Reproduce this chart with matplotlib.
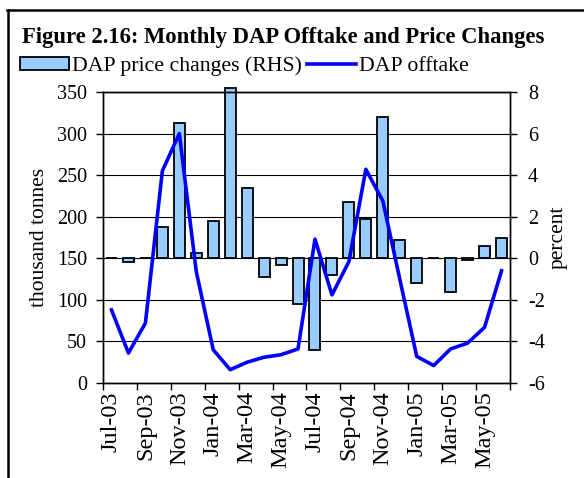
"""
Monthly DAP offtake (line, LHS) and DAP price changes (bars, RHS).
Recreated as out.png, roughly 584x478 px.
"""

import matplotlib
matplotlib.use("Agg")
import matplotlib.pyplot as plt
from matplotlib.lines import Line2D
from matplotlib.patches import Patch


# ─────────────────────────────────────────────
# DATA
# ─────────────────────────────────────────────

months = [
    "Jul-03", "Aug-03", "Sep-03", "Oct-03", "Nov-03", "Dec-03",
    "Jan-04", "Feb-04", "Mar-04", "Apr-04", "May-04", "Jun-04",
    "Jul-04", "Aug-04", "Sep-04", "Oct-04", "Nov-04", "Dec-04",
    "Jan-05", "Feb-05", "Mar-05", "Apr-05", "May-05", "Jun-05",
]

# thousand tonnes
offtake = [88, 36, 72, 255, 300, 134, 40, 16, 25, 31, 34, 41,
           173, 106, 146, 257, 219, 125, 32, 21, 41, 48, 67, 135]

# percent
price_change = [0.0, -0.2, 0.0, 1.5, 6.5, 0.25, 1.8, 8.2, 3.4, -0.9, -0.3, -2.2,
                -4.4, -0.8, 2.7, 1.9, 6.8, 0.9, -1.2, 0.0, -1.6, -0.1, 0.6, 1.0]

left_ticks = [0, 50, 100, 150, 200, 250, 300, 350]
right_ticks = [-6, -4, -2, 0, 2, 4, 6, 8]

title = "Figure 2.16: Monthly DAP Offtake and Price Changes"


# ─────────────────────────────────────────────
# FIGURE
# ─────────────────────────────────────────────

plt.rcParams["font.family"] = ["Liberation Serif", "DejaVu Serif"]
plt.rcParams["font.size"] = 14.5
plt.rcParams["axes.unicode_minus"] = False  # plain hyphen like the source

W, H = 584, 478
fig = plt.figure(figsize=(W / 100, H / 100), dpi=100)

# plot area in pixels: x 103..510, y 92..383
ax = fig.add_axes([103 / W, (H - 383) / H, 407 / W, 291 / H])
ax2 = ax.twinx()

x = list(range(len(months)))

# bars on the right-hand axis, grid behind them
ax2.bar(x, price_change, width=0.65, color="#99CCFF", edgecolor="black",
        linewidth=1.3, zorder=2, clip_on=False)
ax2.set_ylim(-6, 8)
ax2.set_yticks(right_ticks)
ax2.set_ylabel("percent", fontsize=15.5, labelpad=3)
ax2.grid(axis="y", color="black", linewidth=0.8, zorder=0)
ax2.set_axisbelow(True)

# line on the left-hand axis, drawn on top
ax.set_zorder(ax2.get_zorder() + 1)
ax.patch.set_visible(False)
ax.plot(x, offtake, color="#0000FF", linewidth=2.6, zorder=3)
ax.set_ylim(0, 350)
ax.set_yticks(left_ticks)
ax.set_ylabel("thousand tonnes", fontsize=15.5, labelpad=5.5)

# category axis: tick marks every two months, labels on every other month
ax.set_xlim(-0.5, len(months) - 0.5)
ax.set_xticks([i - 0.5 for i in range(0, len(months) + 1, 2)])
ax.set_xticklabels([])
ax.set_xticks(x[::2], minor=True)
ax.set_xticklabels(months[::2], minor=True, rotation=90, fontsize=17.5)
ax.tick_params(axis="x", which="minor", length=0, pad=6)
ax.tick_params(axis="x", which="major", length=5, width=1)
ax.tick_params(axis="y", length=5, width=1, pad=6.5)
ax2.tick_params(axis="y", length=5, width=1, pad=8)

for a in (ax, ax2):
    for sp in a.spines.values():
        sp.set_linewidth(1.0)
        sp.set_color("black")

# title and legend
fig.text(22 / W, 1 - 38 / H, title, fontsize=16.3, fontweight="bold",
         ha="left", va="center")

handles = [
    Patch(facecolor="#99CCFF", edgecolor="black", linewidth=1.3,
          label="DAP price changes (RHS)"),
    Line2D([], [], color="#0000FF", linewidth=2.6, label="DAP offtake"),
]
fig.legend(handles=handles, loc="center left", bbox_to_anchor=(20 / W, 1 - 66 / H),
           ncol=2, frameon=False, fontsize=15.7, handlelength=2.25,
           handleheight=0.55, handletextpad=0.15, columnspacing=0.2,
           borderaxespad=0, borderpad=0)

# outer frame (top and left edges visible in the crop)
fig.add_artist(Line2D([7 / W, 1], [1 - 9.5 / H, 1 - 9.5 / H],
                      transform=fig.transFigure, color="black", linewidth=1.8))
fig.add_artist(Line2D([8 / W, 8 / W], [0, 1 - 9.5 / H],
                      transform=fig.transFigure, color="black", linewidth=1.8))

fig.savefig("out.png", dpi=100)
plt.close(fig)
